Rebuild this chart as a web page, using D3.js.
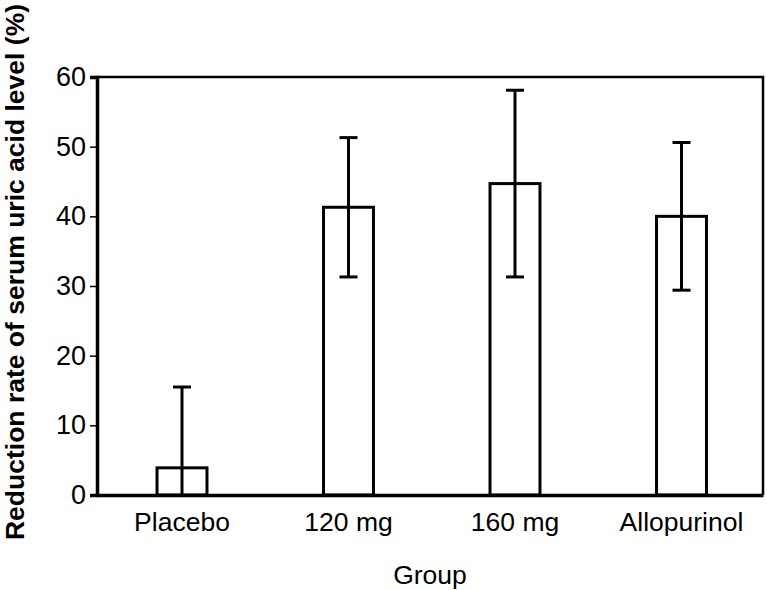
<!DOCTYPE html>
<html>
<head>
<meta charset="utf-8">
<script src="https://cdn.jsdelivr.net/npm/d3@7"></script>
<style>
html,body{margin:0;padding:0;background:#fff;}
svg{display:block;}
text{font-family:"Liberation Sans",Arial,sans-serif;fill:#000;}
</style>
</head>
<body>
<svg id="chart" width="767" height="590"></svg>
<script>
const categories = ["Placebo", "120 mg", "160 mg", "Allopurinol"];
const means = [3.9, 41.3, 44.7, 40.0];
const sds = [11.6, 10.0, 13.4, 10.6];
const yTicks = [0, 10, 20, 30, 40, 50, 60];

const W = 767, H = 590;
const m = {left: 97, right: 4, top: 77, bottom: 95};
const svg = d3.select("#chart");
const FONT = '"Liberation Sans",Arial,sans-serif';

const x = d3.scaleBand().domain(categories)
  .range([m.left, W - m.right]).paddingInner(0.7).paddingOuter(0.35).align(0.515);
const y = d3.scaleLinear().domain([0, 60]).range([H - m.bottom, m.top]);

// frame (top & right)
svg.append("path")
  .attr("d", `M${m.left},${m.top}H${W - m.right}V${H - m.bottom}`)
  .attr("fill", "none").attr("stroke", "#000").attr("stroke-width", 2.5);

// bars
svg.append("g").selectAll("rect").data(categories).join("rect")
  .attr("x", d => x(d))
  .attr("y", (d, i) => y(means[i]))
  .attr("width", x.bandwidth())
  .attr("height", (d, i) => y(0) - y(means[i]))
  .attr("fill", "#fff").attr("stroke", "#000").attr("stroke-width", 3);

// error bars
const eg = svg.append("g").attr("stroke", "#000").attr("stroke-width", 3);
const cap = 18;
categories.forEach((c, i) => {
  const cx = x(c) + x.bandwidth() / 2;
  const hi = means[i] + sds[i], lo = means[i] - sds[i];
  eg.append("line").attr("x1", cx).attr("x2", cx)
    .attr("y1", y(Math.max(lo, 0))).attr("y2", y(hi));
  eg.append("line").attr("x1", cx - cap / 2).attr("x2", cx + cap / 2)
    .attr("y1", y(hi)).attr("y2", y(hi));
  if (lo > 0) {
    eg.append("line").attr("x1", cx - cap / 2).attr("x2", cx + cap / 2)
      .attr("y1", y(lo)).attr("y2", y(lo));
  }
});

// y axis
const ya = svg.append("g").attr("transform", `translate(${m.left},0)`)
  .call(d3.axisLeft(y).tickValues(yTicks).tickSize(7).tickPadding(4));
ya.select(".domain").attr("stroke-width", 3.5);
ya.selectAll(".tick line").attr("stroke-width", 1.5);
ya.selectAll(".tick text").style("font-size", "27px").style("font-family", FONT);

// x axis
const xa = svg.append("g").attr("transform", `translate(0,${H - m.bottom})`)
  .call(d3.axisBottom(x).tickSize(0).tickPadding(17));
xa.select(".domain").attr("stroke-width", 3.5);
xa.selectAll(".tick text").style("font-size", "26.5px").style("font-family", FONT);

// titles
svg.append("text")
  .attr("x", (m.left + W - m.right) / 2).attr("y", 584)
  .attr("text-anchor", "middle").style("font-size", "26.5px").text("Group");
svg.append("text")
  .attr("transform", `translate(24,272) rotate(-90)`)
  .attr("text-anchor", "middle").style("font-size", "26.5px").style("font-weight", "bold")
  .text("Reduction rate of serum uric acid level (%)");
</script>
</body>
</html>
